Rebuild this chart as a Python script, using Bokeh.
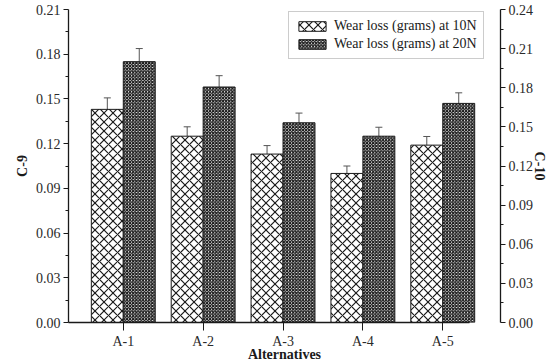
import numpy as np
from bokeh.plotting import figure
from bokeh.models import (Range1d, LinearAxis, FixedTicker, ColumnDataSource,
                          Whisker, TeeHead, Legend, LegendItem, CustomJSTickFormatter)
from bokeh.embed import file_html
from bokeh.resources import INLINE

categories = ["A-1", "A-2", "A-3", "A-4", "A-5"]
loss_10n = [0.143, 0.125, 0.113, 0.100, 0.119]
loss_20n = [0.175, 0.158, 0.134, 0.125, 0.147]
err_10n = [0.0077, 0.0063, 0.0057, 0.0050, 0.0058]
err_20n = [0.0088, 0.0076, 0.0065, 0.0060, 0.0071]
left_ticks = [0.00, 0.03, 0.06, 0.09, 0.12, 0.15, 0.18, 0.21]
right_ticks = [0.00, 0.03, 0.06, 0.09, 0.12, 0.15, 0.18, 0.21, 0.24]

FONT = "Liberation Serif"
DARK = "#1a1a1a"
pos = np.arange(1, len(categories) + 1)

x_rng = Range1d(0.314, 5.723)
p = figure(width=550, height=364, output_backend="svg", toolbar_location=None,
           x_range=x_rng, y_range=Range1d(0, 0.21),
           min_border_left=68, min_border_right=46, min_border_top=9,
           min_border_bottom=41)
p.outline_line_color = None
p.xgrid.visible = False
p.ygrid.visible = False
p.background_fill_color = "white"
p.border_fill_color = "white"
p.extra_y_ranges = {"right": Range1d(0, 0.24)}

src = ColumnDataSource(dict(
    x10=pos - 0.2, x20=pos + 0.2,
    v10=loss_10n, v20=loss_20n,
    lo10=np.array(loss_10n) - np.array(err_10n), hi10=np.array(loss_10n) + np.array(err_10n),
    lo20=np.array(loss_20n) - np.array(err_20n), hi20=np.array(loss_20n) + np.array(err_20n),
))

b10 = p.vbar(x="x10", top="v10", width=0.4, source=src, fill_color="white",
             line_color=DARK, line_width=1,
             hatch_pattern="diagonal_cross", hatch_scale=9, hatch_weight=1.2,
             hatch_color=DARK)
b20 = p.vbar(x="x20", top="v20", width=0.4, source=src, fill_color="white",
             line_color=DARK, line_width=1,
             hatch_pattern="diagonal_cross", hatch_scale=3.2, hatch_weight=1.3,
             hatch_color=DARK)

for base, lo, hi in (("x10", "lo10", "hi10"), ("x20", "lo20", "hi20")):
    w = Whisker(source=src, base=base, lower=lo, upper=hi, line_color="#555555",
                line_width=1, upper_head=TeeHead(size=7, line_color="#555555", line_width=1),
                lower_head=None)
    p.add_layout(w)

ya = p.yaxis[0]
ya.ticker = FixedTicker(ticks=left_ticks,
                        minor_ticks=[t + 0.015 for t in left_ticks[:-1]])
ya.axis_label = "C-9"
ra = LinearAxis(y_range_name="right", axis_label="C-10")
ra.ticker = FixedTicker(ticks=right_ticks,
                        minor_ticks=[t + 0.015 for t in right_ticks[:-1]])
p.add_layout(ra, "right")

for ax in (ya, ra):
    ax.formatter = CustomJSTickFormatter(code="return tick.toFixed(2);")
    ax.major_tick_in = 0
    ax.major_tick_out = 5
    ax.minor_tick_in = 0
    ax.minor_tick_out = 3
    ax.major_label_standoff = 3
    ax.axis_line_color = DARK
    ax.axis_line_width = 1.3
    ax.major_tick_line_color = DARK
    ax.minor_tick_line_color = DARK
    ax.major_label_text_font = FONT
    ax.major_label_text_font_size = "14px"
    ax.major_label_text_color = "#2a2a2a"
    ax.axis_label_text_font = FONT
    ax.axis_label_text_font_size = "14px"
    ax.axis_label_text_font_style = "bold"
    ax.axis_label_text_color = DARK
ya.axis_label_standoff = 3
ra.axis_label_standoff = -4

xa = p.xaxis[0]
xa.ticker = FixedTicker(ticks=list(pos))
xa.major_label_overrides = {int(i): c for i, c in zip(pos, categories)}
xa.minor_tick_line_color = None
xa.major_tick_in = 0
xa.major_tick_out = 8
xa.major_label_standoff = 3
xa.bounds = (x_rng.start, 5.33)
xa.axis_line_color = DARK
xa.axis_line_width = 1.5
xa.major_tick_line_color = DARK
xa.major_label_text_font = FONT
xa.major_label_text_font_size = "14px"
xa.major_label_text_color = "#2a2a2a"
xa.axis_label = "Alternatives"
xa.axis_label_standoff = -5
xa.axis_label_text_font = FONT
xa.axis_label_text_font_size = "14px"
xa.axis_label_text_font_style = "bold"
xa.axis_label_text_color = DARK

legend = Legend(items=[LegendItem(label="Wear loss (grams) at 10N", renderers=[b10]),
                       LegendItem(label="Wear loss (grams) at 20N", renderers=[b20])],
                location=(220, 263))
legend.label_text_font = FONT
legend.label_text_font_size = "14px"
legend.label_text_color = DARK
legend.glyph_width = 34
legend.glyph_height = 12
legend.label_standoff = 5
legend.label_height = 16
legend.spacing = 2
legend.padding = 6
legend.margin = 0
legend.border_line_color = "#999999"
legend.border_line_width = 1
legend.background_fill_alpha = 1
p.add_layout(legend, "center")

open("out.html", "w").write(file_html(p, INLINE))
